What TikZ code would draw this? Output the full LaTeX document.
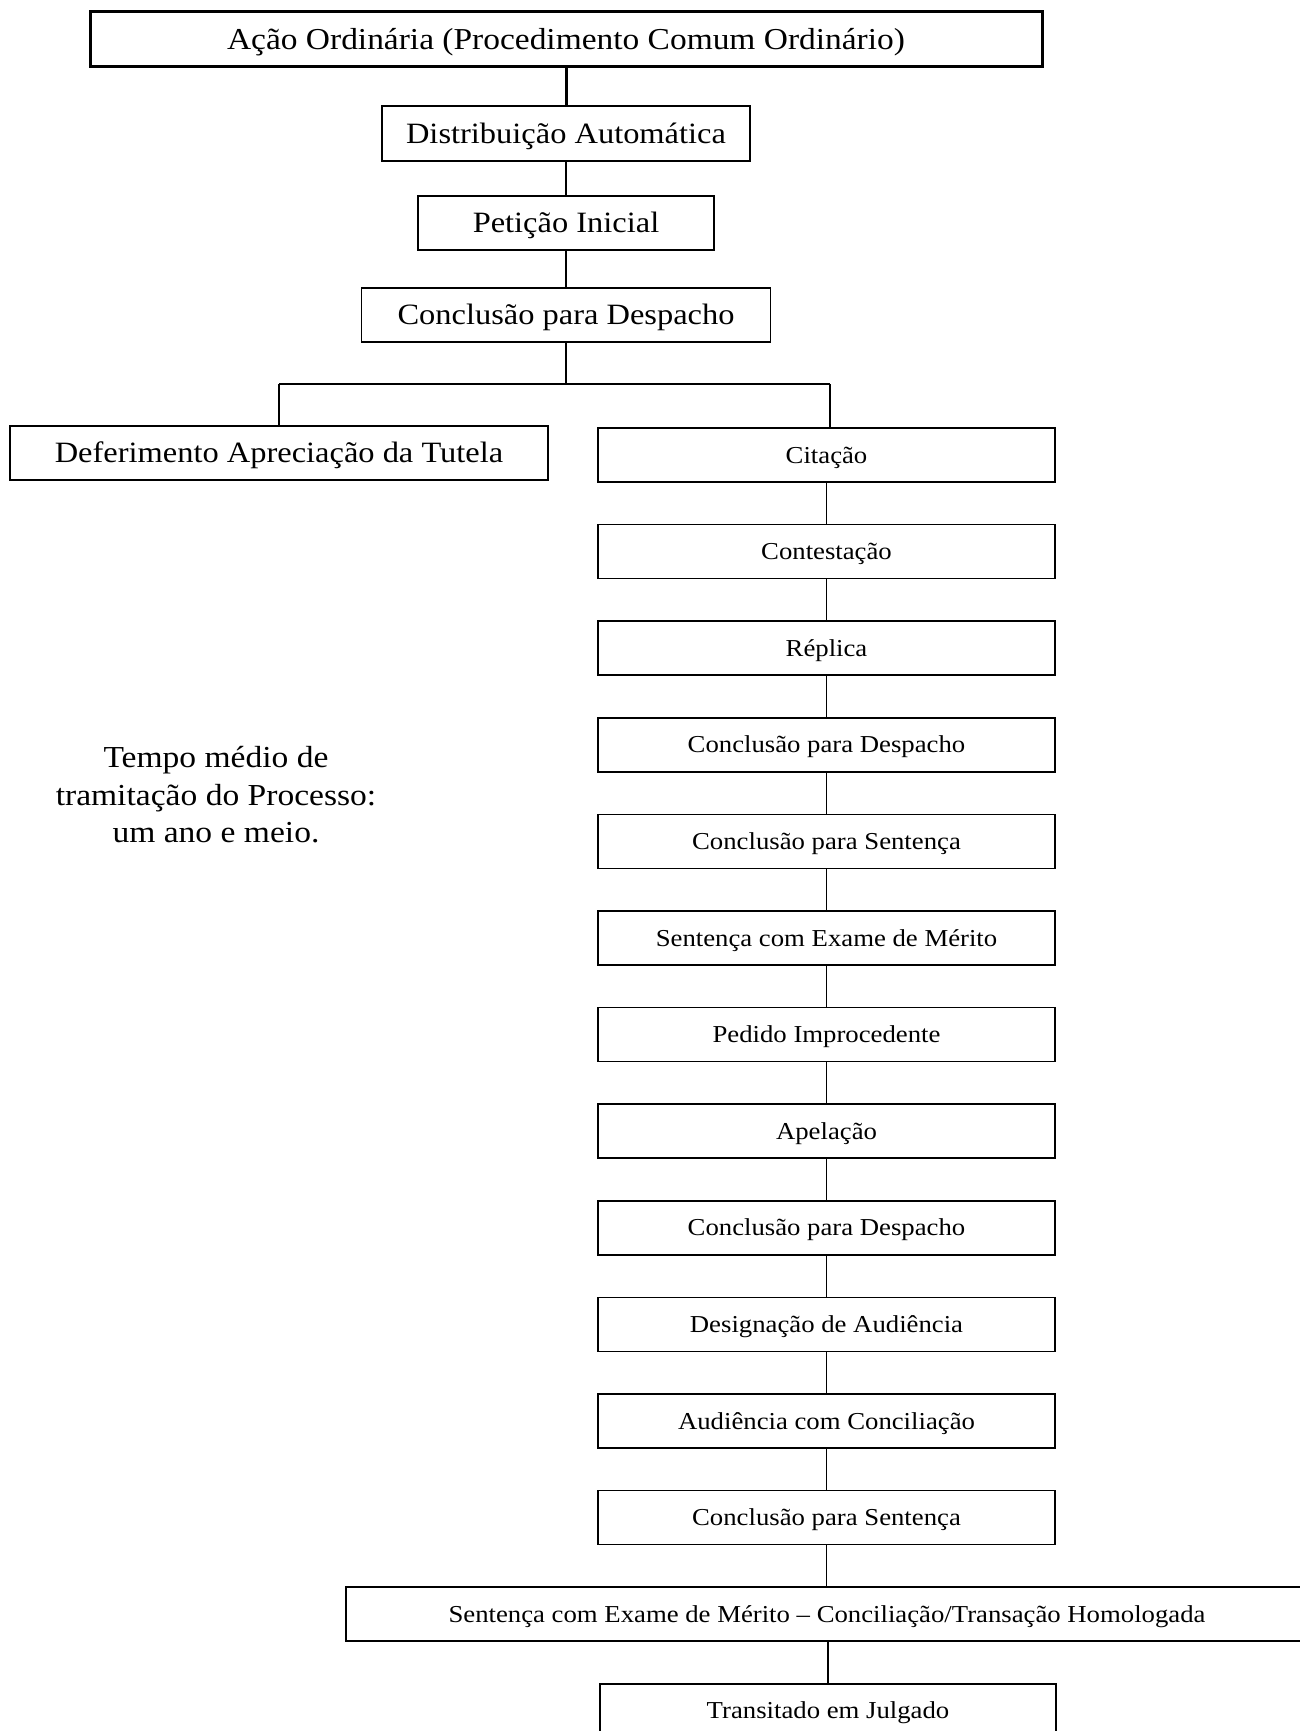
\documentclass[tikz,border=0pt]{standalone}
\usepackage{graphicx}
\usepackage{fontspec}
\setmainfont{Liberation Serif}
\newcommand{\wx}[1]{\scalebox{1.1}[1]{#1}}
\tikzset{
  big/.style={font=\fontsize{29.5}{35}\selectfont},
  small/.style={font=\fontsize{24.3}{29}\selectfont},
  boxa/.style={draw, line width=1.8pt, inner sep=0pt, minimum height=54pt, text height=25.5pt, text depth=6pt, big},
  boxb/.style={draw, line width=1.7pt, inner sep=0pt, minimum height=54pt, text height=21pt, text depth=5pt, small},
  conn/.style={line width=1.3pt},
  thickconn/.style={line width=3pt}
}
\begin{document}
\begin{tikzpicture}[x=1pt,y=-1pt]
\fill[white] (0,0) rectangle (1300,1731);
\useasboundingbox (0,0) rectangle (1300,1731);

\node[boxa, line width=3pt, minimum width=952pt, minimum height=55pt, font=\fontsize{30.4}{36}\selectfont] (top) at (566,39.5) {\wx{Ação Ordinária (Procedimento Comum Ordinário)}};
\node[boxa, minimum width=368pt, minimum height=55pt] (dist) at (566,133.5) {\wx{Distribuição Automática}};
\node[boxa, minimum width=296pt] (pet) at (566,223) {\wx{Petição Inicial}};
\node[boxa, minimum width=409pt] (conc) at (566,315) {\wx{Conclusão para Despacho}};
\node[boxa, minimum width=538pt] (def) at (279,453) {\wx{Deferimento Apreciação da Tutela}};

\node[font=\fontsize{30.5}{37.5}\selectfont, align=center, inner sep=0pt] (note) at (216,795)
  {\wx{Tempo médio de}\\\wx{tramitação do Processo:}\\\wx{um ano e meio.}};

\foreach \lab [count=\i from 0] in {Citação, Contestação, Réplica, Conclusão para Despacho, Conclusão para Sentença, Sentença com Exame de Mérito, Pedido Improcedente, Apelação, Conclusão para Despacho, Designação de Audiência, Audiência com Conciliação, Conclusão para Sentença}
  \node[boxb, minimum width=457pt] (r\i) at (826.5,455+96.6*\i) {\wx{\lab}};

\node[boxb, minimum width=962pt] (final) at (827,1614.2) {\wx{Sentença com Exame de Mérito – Conciliação/Transação Homologada}};
\node[boxb, minimum width=456pt] (tej) at (828,1710.8) {\wx{Transitado em Julgado}};

\draw[thickconn] (top.south) -- (dist.north);
\draw[conn] (dist.south) -- (pet.north);
\draw[conn] (pet.south) -- (conc.north);

\coordinate (jl) at (279,384);
\coordinate (jr) at (830,384);
\draw[conn] (conc.south) -- (conc.south |- jl);
\draw[conn] (jl) -- (jr);
\draw[conn] (jl) -- (def.north);
\draw[conn] (jr) -- (jr |- r0.north);

\foreach \a/\b in {0/1,1/2,2/3,3/4,4/5,5/6,6/7,7/8,8/9,9/10,10/11}
  \draw[conn] (r\a.south) -- (r\b.north);
\draw[conn] (r11.south) -- (r11.south |- final.north);
\draw[conn] (tej.north) -- (tej.north |- final.south);
\end{tikzpicture}
\end{document}
